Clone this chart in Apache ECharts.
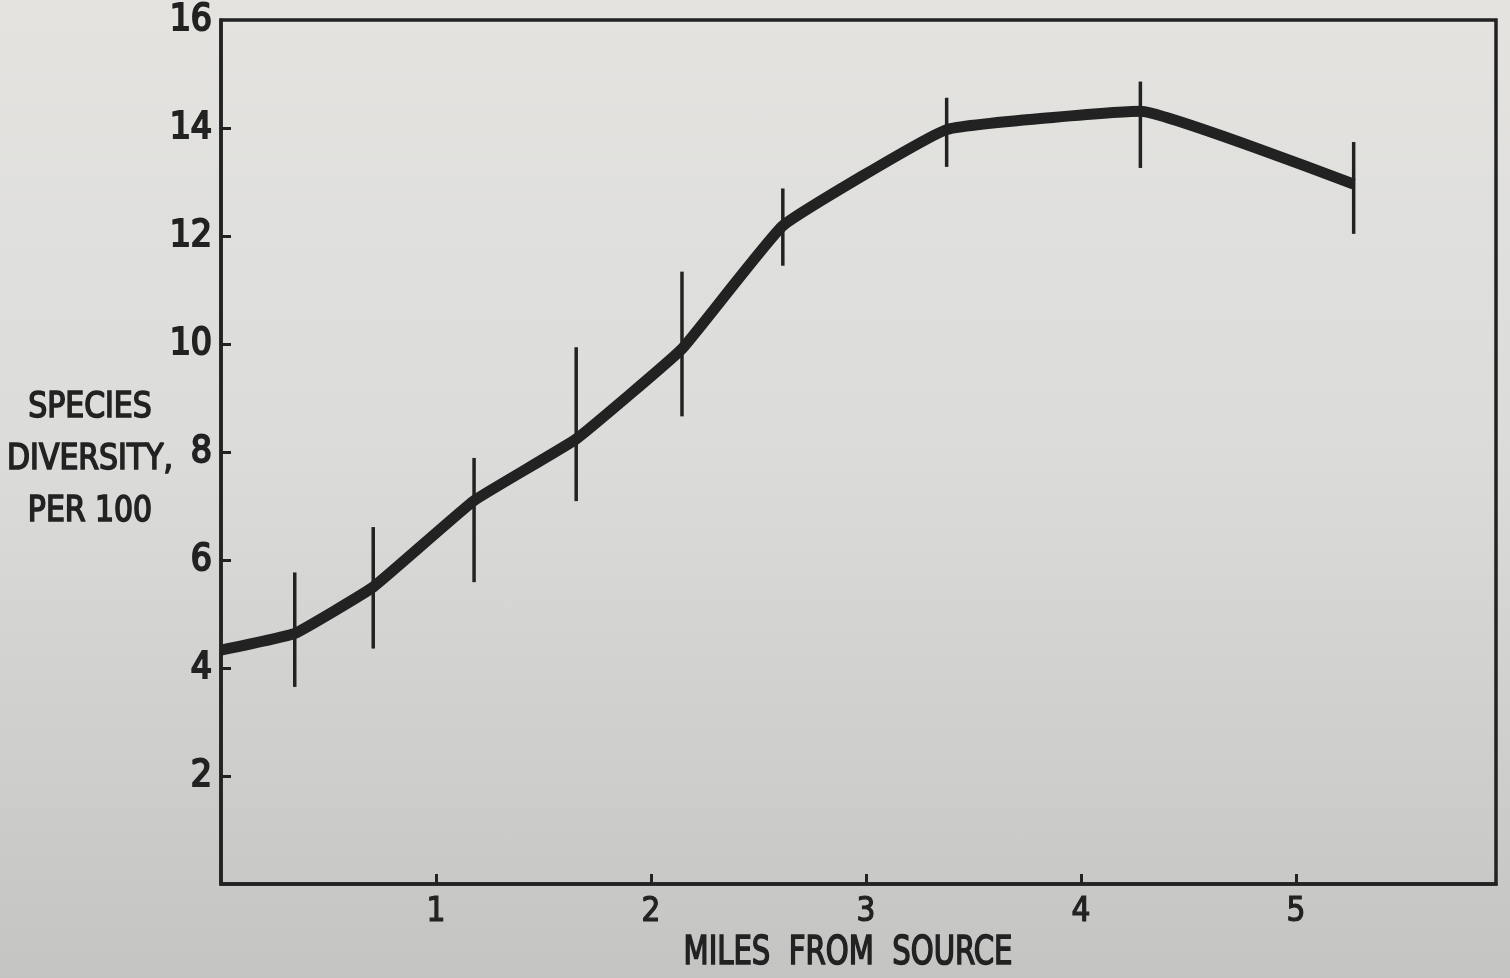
<!DOCTYPE html>
<html>
<head>
<meta charset="utf-8">
<script src="https://cdn.jsdelivr.net/npm/echarts@6/dist/echarts.min.js"></script>
<style>
html,body{margin:0;padding:0;width:1510px;height:978px;overflow:hidden;
background:linear-gradient(180deg,#e4e3e0 0%,#dcdcda 45%,#cbcbca 85%,#c4c4c3 100%);}
#chart{width:1510px;height:978px;}
</style>
</head>
<body>
<div id="chart"></div>
<script>
// Data
const lineMiles = [0, 0.343, 0.708, 1.177, 1.652, 2.144, 2.613, 3.375, 4.276, 5.268];
const lineDiversity = [4.33, 4.64, 5.50, 7.10, 8.24, 9.91, 12.19, 13.97, 14.31, 12.96];
const barMiles = [0.343, 0.708, 1.177, 1.652, 2.144, 2.613, 3.375, 4.276, 5.268];
const barLow = [3.65, 4.36, 5.59, 7.09, 8.66, 11.45, 13.28, 13.26, 12.04];
const barHigh = [5.77, 6.61, 7.89, 9.94, 11.34, 12.88, 14.56, 14.86, 13.74];
const xTickLabels = [1, 2, 3, 4, 5];
const yTickMarks = [2, 4, 6, 8, 10, 12, 14];
const yTickLabels = [2, 4, 6, 8, 10, 12, 14, 16];
const xTitle = 'MILES  FROM  SOURCE';
const yTitle = 'SPECIES\nDIVERSITY,\nPER 100';

const ink = '#222222';
const cond = "'DejaVu Sans Condensed', 'DejaVu Sans', sans-serif";

const chart = echarts.init(document.getElementById('chart'), null, {renderer: 'canvas'});
chart.setOption({
  backgroundColor: 'transparent',
  animation: false,
  graphic: [
    {
      type: 'text', x: 90, y: 460, scaleX: 0.95,
      style: {text: yTitle, font: "normal 35px 'DejaVu Sans Condensed', 'DejaVu Sans', sans-serif",
        fill: ink, stroke: ink, lineWidth: 1.6, align: 'center', verticalAlign: 'middle', lineHeight: 52}
    },
    {
      type: 'text', x: 848, y: 954, scaleX: 0.83,
      style: {text: xTitle, font: "normal 39px 'DejaVu Sans Condensed', 'DejaVu Sans', sans-serif",
        fill: ink, stroke: ink, lineWidth: 1.6, align: 'center', verticalAlign: 'middle'}
    }
  ],
  grid: {left: 221, right: 14, top: 20, bottom: 94, show: true,
    borderColor: ink, borderWidth: 3.5, backgroundColor: 'transparent'},
  xAxis: {
    type: 'value', min: 0, max: 5.93, interval: 1,
    splitLine: {show: false},
    axisLine: {show: true, lineStyle: {color: ink, width: 3.5}},
    axisTick: {show: true, inside: true, length: 10, lineStyle: {color: ink, width: 3},
      customValues: xTickLabels},
    axisLabel: {show: true, margin: 12, color: ink, fontFamily: cond, fontSize: 33,
      textBorderColor: ink, textBorderWidth: 1.2, customValues: xTickLabels}
  },
  yAxis: {
    type: 'value', min: 0, max: 16, interval: 2,
    splitLine: {show: false},
    axisLine: {show: true, lineStyle: {color: ink, width: 3.5}},
    axisTick: {show: true, inside: true, length: 10, lineStyle: {color: ink, width: 3},
      customValues: yTickMarks},
    axisLabel: {show: true, margin: 9, color: ink, fontFamily: cond, fontSize: 37,
      fontWeight: 'normal', textBorderColor: ink, textBorderWidth: 2,
      customValues: yTickLabels}
  },
  series: [
    {
      type: 'line',
      data: lineMiles.map((m, i) => [m, lineDiversity[i]]),
      smooth: 0.1,
      symbol: 'none',
      lineStyle: {color: ink, width: 11, cap: 'butt', join: 'round'},
      z: 3
    },
    {
      type: 'custom',
      data: barMiles.map((m, i) => [m, barLow[i], barHigh[i]]),
      renderItem: function (params, api) {
        const lo = api.coord([api.value(0), api.value(1)]);
        const hi = api.coord([api.value(0), api.value(2)]);
        return {
          type: 'line',
          shape: {x1: lo[0], y1: lo[1], x2: hi[0], y2: hi[1]},
          style: {stroke: ink, lineWidth: 3.5}
        };
      },
      encode: {x: 0, y: [1, 2]},
      z: 4
    }
  ]
});
</script>
</body>
</html>
